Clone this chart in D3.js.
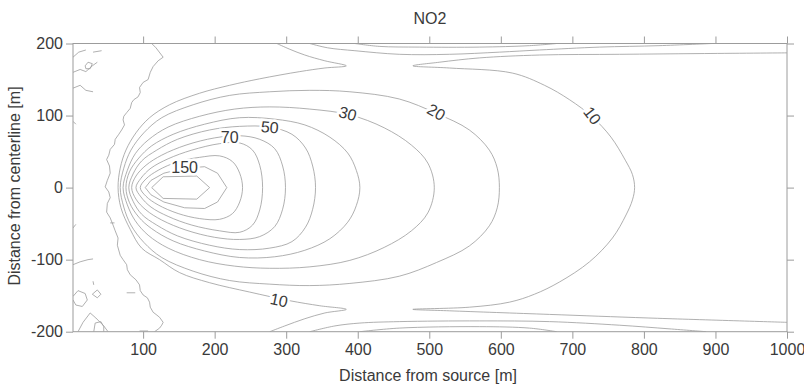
<!DOCTYPE html>
<html><head><meta charset="utf-8">
<script src="https://cdn.jsdelivr.net/npm/d3@7"></script>
<style>
body{margin:0;background:#fff;}
text{font-family:"Liberation Sans",Arial,sans-serif;}
</style>
</head><body>
<svg id="c" width="804" height="387"></svg>
<script>
// ---------------- data ----------------
const title = "NO2";
const xLabel = "Distance from source [m]";
const yLabel = "Distance from centerline [m]";
const xDomain = [2, 1000];
const yDomain = [-200, 200];
const xTicks = [100, 200, 300, 400, 500, 600, 700, 800, 900, 1000];
const yTicks = [-200, -100, 0, 100, 200];

// closed contour loops around the source plume  (x [m], y [m])
const c20 = [[68,0],[73,27],[83,52],[101,76],[126,97],[170,115],[221,128],[277,133],[333,135],[389,133],[458,123],[510,103],[556,80],[584,52],[595,27],[598,0],[595,-28],[584,-53],[556,-81],[510,-104],[458,-123],[389,-133],[333,-136],[277,-134],[221,-129],[170,-116],[126,-97],[101,-76],[83,-52],[73,-27]];
const c30 = [[72,0],[78,24],[89,47],[107,66],[135,84],[179,99],[228,109],[277,112],[333,109],[389,101],[437,83],[475,59],[498,34],[507,0],[498,-35],[475,-60],[437,-83],[389,-101],[333,-110],[277,-112],[228,-109],[179,-100],[135,-84],[107,-66],[89,-46],[78,-24]];
const c40 = [[76,0],[81,22],[94,41],[112,58],[142,74],[186,88],[235,97],[284,95],[326,87],[361,70],[386,48],[398,24],[403,0],[398,-25],[386,-48],[361,-71],[326,-87],[284,-96],[235,-97],[186,-88],[142,-74],[112,-57],[94,-41],[81,-21]];
const c50 = [[80,0],[86,19],[98,37],[119,52],[148,67],[193,80],[235,85],[277,84],[308,74],[327,55],[337,30],[341,0],[337,-30],[327,-55],[308,-75],[277,-84],[235,-86],[193,-80],[148,-67],[119,-52],[98,-37],[86,-19]];
const c70 = [[84,0],[90,16],[104,31],[126,45],[160,59],[200,69],[235,72],[263,67],[284,54],[295,30],[299,0],[295,-30],[284,-54],[263,-68],[235,-72],[200,-69],[160,-59],[126,-45],[104,-31],[90,-16]];
const c100 = [[90,0],[97,13],[111,27],[135,40],[168,52],[207,61],[235,62],[253,52],[263,31],[267,0],[263,-31],[253,-52],[235,-62],[207,-60],[168,-52],[135,-40],[111,-27],[97,-13]];
const c120 = [[96,0],[104,12],[121,24],[149,36],[179,42],[207,44],[225,36],[235,20],[239,0],[235,-20],[225,-36],[207,-44],[179,-43],[149,-36],[121,-24],[104,-12]];
const c150 = [[103,0],[111,10],[129,20],[158,27],[186,29],[204,20],[217,0],[204,-20],[186,-29],[158,-28],[129,-20],[111,-10]];
const c200 = [[112,0],[128,15],[175,16],[193,0],[175,-16],[128,-15]];

// open contour lines (10 level and edge bands)
const c10Left = [[277,-200],[298,-192],[326,-182],[354,-174],[384,-169],[347,-164],[305,-157],[249,-145],[193,-132],[151,-118],[123,-100],[98,-84],[82,-58],[69,-28],[65,0],[68,27],[76,52],[90,76],[109,97],[137,115],[179,131],[221,142],[263,151],[319,161],[354,166],[384,169],[354,176],[326,184],[305,192],[287,200]];
const c10Right = [[1000,187],[877,186],[766,185],[654,184],[570,180],[514,174],[477,169],[528,166],[616,159],[661,142],[696,122],[728,98],[754,70],[774,38],[784,18],[787,0],[784,-17],[775,-38],[756,-70],[724,-103],[682,-131],[647,-148],[612,-159],[556,-166],[477,-169],[528,-171],[668,-176],[807,-181],[1000,-187]];
const topA = [[333,200],[358,194],[396,190],[458,185],[528,185],[598,188],[654,191],[738,195],[821,197],[895,200]];
const topB = [[396,200],[430,196],[486,195],[570,195],[640,197],[678,200]];
const botA = [[333,-200],[368,-192],[403,-188],[458,-186],[570,-185],[668,-186],[766,-191],[835,-196],[887,-200]];
const botB = [[403,-200],[458,-195],[570,-193],[640,-195],[678,-200]];

// noisy low-concentration contours near the source
const wiggle = [[112,200],[118,194],[128,181],[121,176],[114,168],[110,160],[107,150],[100,146],[95,139],[96,132],[93,126],[87,122],[84,118],[82,110],[77,104],[73,99],[72,94],[74,87],[70,80],[66,74],[61,67],[60,60],[54,53],[52,45],[49,39],[53,30],[54,20],[50,10],[47,1],[52,-6],[54,-14],[50,-22],[49,-34],[54,-42],[58,-52],[61,-60],[65,-70],[64,-80],[68,-94],[72,-100],[77,-107],[78,-114],[82,-121],[90,-128],[95,-135],[96,-143],[100,-149],[106,-153],[109,-159],[110,-166],[114,-173],[118,-176],[123,-180],[128,-187],[126,-191],[123,-195],[116,-200]];
const noise = [
  [[30,188],[42,190]],
  [[2,181],[10,188],[20,191]],
  [[19,169],[23,174],[29,172],[26,165],[20,165],[19,169]],
  [[2,160],[12,164],[20,161],[29,169],[36,174]],
  [[2,138],[12,142],[20,135],[30,133]],
  [[2,92],[6,88]],
  [[2,-56],[6,-51]],
  [[54,-49],[60,-49]],
  [[2,-107],[12,-103],[23,-100],[30,-99]],
  [[30,-130],[31,-135]],
  [[77,-146],[89,-146]],
  [[2,-151],[9,-143],[19,-147],[22,-156],[15,-165],[6,-163],[2,-156]],
  [[29,-148],[36,-142],[41,-148],[36,-153],[29,-148]],
  [[9,-200],[16,-187],[26,-174],[34,-181],[45,-192],[51,-200]],
  [[31,-200],[33,-188],[41,-186],[45,-193],[45,-200]],
  [[95,-199],[107,-199]]
];

const labelText = ["150", "70", "50", "30", "20", "10", "10"];
const labelX = [158, 221, 277, 386, 510, 728, 290];
const labelY = [28, 70, 84, 103, 105, 100, -156];

// ---------------- drawing ----------------
const svg = d3.select("#c");
const x = d3.scaleLinear().domain(xDomain).range([73, 787]);
const y = d3.scaleLinear().domain(yDomain).range([331.7, 43.5]);

svg.append("defs").append("clipPath").attr("id", "plot")
  .append("rect").attr("x", 73).attr("y", 43.5).attr("width", 714).attr("height", 288.2);

const smoothClosed = d3.line().x(d => x(d[0])).y(d => y(d[1])).curve(d3.curveCatmullRomClosed.alpha(0.5));
const linClosed = d3.line().x(d => x(d[0])).y(d => y(d[1])).curve(d3.curveLinearClosed);
const smoothOpen = d3.line().x(d => x(d[0])).y(d => y(d[1])).curve(d3.curveCatmullRom.alpha(0.5));
const lin = d3.line().x(d => x(d[0])).y(d => y(d[1]));

const g = svg.append("g").attr("clip-path", "url(#plot)")
  .attr("fill", "none").attr("stroke", "#9c9c9c").attr("stroke-width", 0.8);

[c20, c30, c40, c50, c70, c100, c120].forEach(c => g.append("path").attr("d", smoothClosed(c)));
[c150, c200].forEach(c => g.append("path").attr("d", linClosed(c)));
[c10Left, c10Right, topA, topB, botA, botB].forEach(c => g.append("path").attr("d", smoothOpen(c)));
g.append("path").attr("d", lin(wiggle));
noise.forEach(c => g.append("path").attr("d", lin(c)));

// contour labels
const labelRot = [0, 0, 5, 15, 30, 52, 12];
const lg = svg.append("g");
labelText.forEach((t, i) => {
  lg.append("text")
    .attr("transform", `translate(${x(labelX[i])},${y(labelY[i])}) rotate(${labelRot[i]})`)
    .attr("text-anchor", "middle").attr("dy", "0.36em")
    .attr("font-size", 16).attr("fill", "#3a3a3a")
    .attr("stroke", "#fff").attr("stroke-width", 5).attr("paint-order", "stroke")
    .text(t);
});

// axes
const fmt = d => String(d);
function styleAxis(sel) {
  sel.select(".domain").remove();
  sel.selectAll(".tick line").attr("stroke", "#9c9c9c");
  sel.selectAll(".tick text").attr("fill", "#3a3a3a").attr("font-size", 16)
    .attr("font-family", '"Liberation Sans",Arial,sans-serif');
}
svg.append("g").attr("transform", `translate(0,${y(-200)})`)
  .call(d3.axisBottom(x).tickValues(xTicks).tickFormat(fmt).tickSize(7).tickPadding(5).tickSizeOuter(0)).call(styleAxis);
svg.append("g").attr("transform", `translate(0,${y(200)})`)
  .call(d3.axisTop(x).tickValues(xTicks).tickFormat("").tickSize(7).tickSizeOuter(0)).call(styleAxis);
svg.append("g").attr("transform", `translate(${x(2)},0)`)
  .call(d3.axisLeft(y).tickValues(yTicks).tickFormat(fmt).tickSize(7).tickPadding(3).tickSizeOuter(0)).call(styleAxis);
svg.append("g").attr("transform", `translate(${x(1000)},0)`)
  .call(d3.axisRight(y).tickValues(yTicks).tickFormat("").tickSize(7).tickSizeOuter(0)).call(styleAxis);

svg.append("rect").attr("x", x(2)).attr("y", y(200))
  .attr("width", x(1000) - x(2)).attr("height", y(-200) - y(200))
  .attr("fill", "none").attr("stroke", "#9c9c9c").attr("stroke-width", 1);

svg.append("text").attr("x", 430).attr("y", 24).attr("text-anchor", "middle")
  .attr("font-size", 16).attr("fill", "#3a3a3a").text(title);
svg.append("text").attr("x", 428).attr("y", 381).attr("text-anchor", "middle")
  .attr("font-size", 16).attr("fill", "#3a3a3a").text(xLabel);
svg.append("text").attr("transform", "translate(20,186) rotate(-90)").attr("text-anchor", "middle")
  .attr("font-size", 16).attr("fill", "#3a3a3a").text(yLabel);
</script>
</body></html>
